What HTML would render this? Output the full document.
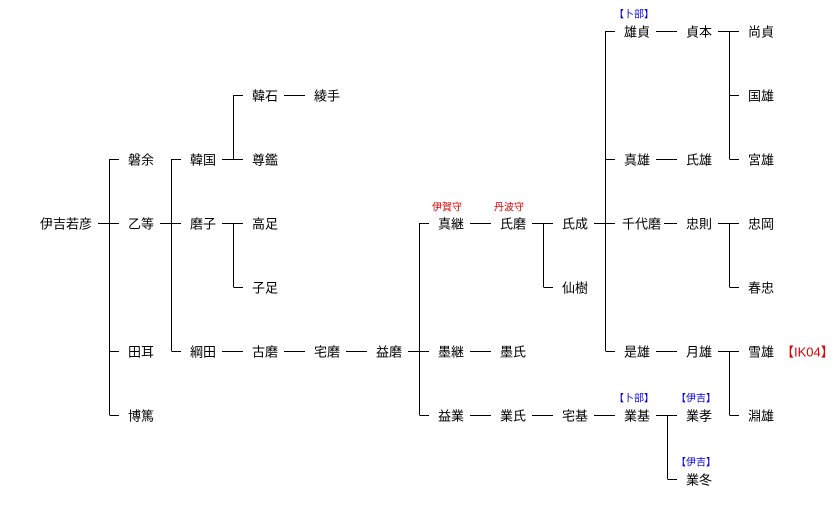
<!DOCTYPE html>
<html><head><meta charset="utf-8"><style>
html,body{margin:0;padding:0;background:#fff;}
svg{display:block}
text{font-family:"Liberation Sans","Noto Sans CJK JP",sans-serif;font-size:13px;fill:#000;dominant-baseline:central}
.r{fill:#e00000;font-size:10px}
.b{fill:#0000e0;font-size:10px}
.rr{fill:#e00000;font-size:13px}
</style></head><body>
<svg width="837" height="531" xmlns="http://www.w3.org/2000/svg">
<g stroke="#000" stroke-width="1" fill="none" shape-rendering="crispEdges">
<path d="M98 223.5H109.5M109.5 159V415M109.5 159.5H119M109.5 223.5H119M109.5 351.5H119M109.5 415.5H119"/>
<path d="M160 223.5H171.5M171.5 159V351M171.5 159.5H181M171.5 223.5H181M171.5 351.5H181"/>
<path d="M222 159.5H233.5M233.5 95V159M233.5 95.5H243M233.5 159.5H243"/>
<path d="M284 95.5H305"/>
<path d="M222 223.5H233.5M233.5 223V287M233.5 223.5H243M233.5 287.5H243"/>
<path d="M222 351.5H243M284 351.5H305M346 351.5H367"/>
<path d="M408 351.5H419.5M419.5 223V415M419.5 223.5H429M419.5 351.5H429M419.5 415.5H429"/>
<path d="M470 223.5H491M470 351.5H491M470 415.5H491"/>
<path d="M532 223.5H543.5M543.5 223V287M543.5 223.5H553M543.5 287.5H553"/>
<path d="M532 415.5H553"/>
<path d="M594 223.5H605.5M605.5 31V351M605.5 31.5H615M605.5 159.5H615M605.5 223.5H615M605.5 351.5H615"/>
<path d="M594 415.5H615"/>
<path d="M656 31.5H677M656 159.5H677M664 223.5H677M656 351.5H677"/>
<path d="M656 415.5H667.5M667.5 415V479M667.5 415.5H677M667.5 479.5H677"/>
<path d="M718 31.5H729.5M729.5 31V159M729.5 31.5H739M729.5 95.5H739M729.5 159.5H739"/>
<path d="M718 223.5H729.5M729.5 223V287M729.5 223.5H739M729.5 287.5H739"/>
<path d="M718 351.5H729.5M729.5 351V415M729.5 351.5H739M729.5 415.5H739"/>
</g>
<text x="40" y="224">伊吉若彦</text>
<text x="128" y="160">磐余</text>
<text x="128" y="224">乙等</text>
<text x="128" y="352">田耳</text>
<text x="128" y="416">博篤</text>
<text x="190" y="160">韓国</text>
<text x="190" y="224">磨子</text>
<text x="190" y="352">綱田</text>
<text x="252" y="96">韓石</text>
<text x="252" y="160">尊鑑</text>
<text x="252" y="224">高足</text>
<text x="252" y="288">子足</text>
<text x="252" y="352">古磨</text>
<text x="314" y="96">綾手</text>
<text x="314" y="352">宅磨</text>
<text x="376" y="352">益磨</text>
<text x="438" y="224">真継</text>
<text x="438" y="352">墨継</text>
<text x="438" y="416">益業</text>
<text x="500" y="224">氏磨</text>
<text x="500" y="352">墨氏</text>
<text x="500" y="416">業氏</text>
<text x="562" y="224">氏成</text>
<text x="562" y="288">仙樹</text>
<text x="562" y="416">宅基</text>
<text x="624" y="32">雄貞</text>
<text x="624" y="160">真雄</text>
<text x="622" y="224">千代磨</text>
<text x="624" y="352">是雄</text>
<text x="624" y="416">業基</text>
<text x="686" y="32">貞本</text>
<text x="686" y="160">氏雄</text>
<text x="686" y="224">忠則</text>
<text x="686" y="352">月雄</text>
<text x="686" y="416">業孝</text>
<text x="686" y="480">業冬</text>
<text x="748" y="32">尚貞</text>
<text x="748" y="96">国雄</text>
<text x="748" y="160">宮雄</text>
<text x="748" y="224">忠岡</text>
<text x="748" y="288">春忠</text>
<text x="748" y="352">雪雄</text>
<text x="748" y="416">淵雄</text>
<text class="rr" x="781" y="352">【IK04】</text>
<text class="r" x="432" y="208">伊賀守</text>
<text class="r" x="494" y="208">丹波守</text>
<text class="b" x="614" y="15">【卜部】</text>
<text class="b" x="614" y="399">【卜部】</text>
<text class="b" x="676" y="399">【伊吉】</text>
<text class="b" x="676" y="463">【伊吉】</text>
</svg>
</body></html>
